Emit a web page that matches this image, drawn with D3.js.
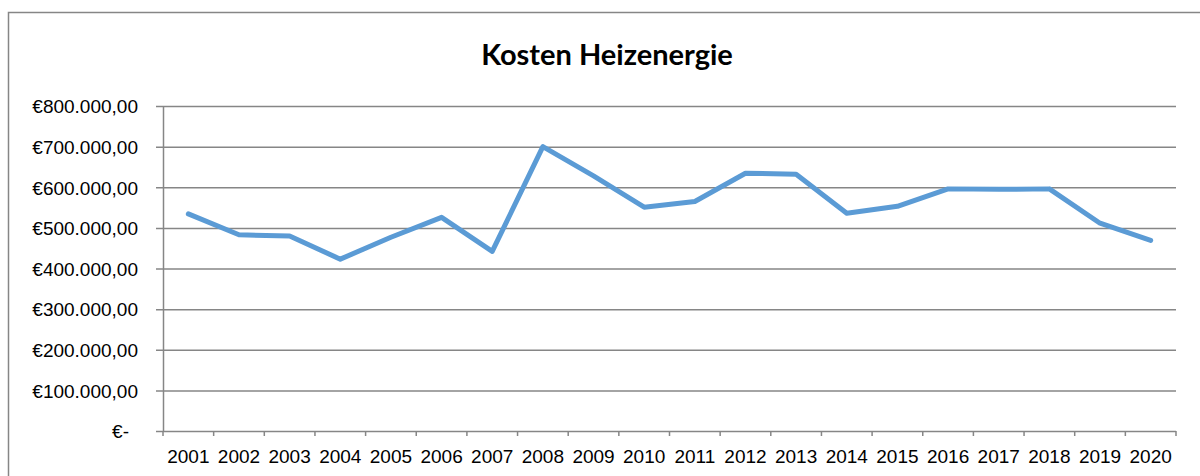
<!DOCTYPE html>
<html>
<head>
<meta charset="utf-8">
<script src="https://cdn.jsdelivr.net/npm/d3@7"></script>
<style>
  body { margin: 0; background: #fff; }
  svg { display: block; font-family: Lato, "Open Sans", sans-serif; }
</style>
</head>
<body>
<svg id="chart"></svg>
<script>
// data
const years = ["2001", "2002", "2003", "2004", "2005", "2006", "2007", "2008", "2009", "2010",
               "2011", "2012", "2013", "2014", "2015", "2016", "2017", "2018", "2019", "2020"];
const costs = [534500, 483000, 480000, 423000, 477000, 526000, 442000, 700000, 628000, 551000,
               565000, 634500, 632000, 536000, 553000, 596000, 595000, 596000, 511500, 469000];
const yTicks = [0, 100000, 200000, 300000, 400000, 500000, 600000, 700000, 800000];
const title = "Kosten Heizenergie";

const width = 1200, height = 476;
const margin = { top: 106, right: 24, bottom: 45, left: 163 };
const gray = "#868686";

const svg = d3.select("#chart").attr("width", width).attr("height", height);

// chart frame
svg.append("rect")
  .attr("x", 8.5).attr("y", 12.5)
  .attr("width", width).attr("height", height)
  .attr("fill", "none").attr("stroke", gray).attr("stroke-width", 1.5);

const x = d3.scaleBand()
  .domain(years)
  .range([margin.left, width - margin.right]);

const y = d3.scaleLinear()
  .domain([0, 800000])
  .range([height - margin.bottom, margin.top]);

// euro format like "€800.000,00"
const euro = d3.formatLocale({ decimal: ",", thousands: ".", grouping: [3], currency: ["€", ""] });
const fmt = euro.format("$,.2f");

// y axis with gridlines
const yAxis = svg.append("g")
  .attr("transform", `translate(${margin.left},0)`)
  .call(d3.axisLeft(y)
    .tickValues(yTicks)
    .tickSize(-(width - margin.right - margin.left))
    .tickSizeOuter(0)
    .tickPadding(25)
    .tickFormat(d => d === 0 ? "€-" : fmt(d)));

yAxis.select(".domain").attr("stroke", gray).attr("stroke-width", 1.5);
yAxis.selectAll(".tick line")
  .attr("x1", -7)
  .attr("stroke", gray).attr("stroke-width", 1.5);
yAxis.selectAll(".tick text")
  .attr("font-size", 19).attr("fill", "#000")
  .attr("dy", "0.36em");
yAxis.selectAll(".tick text").filter(d => d === 0).attr("dx", -9);

// x axis
const xAxis = svg.append("g")
  .attr("transform", `translate(0,${y(0)})`)
  .call(d3.axisBottom(x).tickSize(0).tickPadding(19));
xAxis.select(".domain").remove();
xAxis.selectAll(".tick text").attr("font-size", 19).attr("fill", "#000");

// category boundary tick marks
const bounds = years.map(d => x(d)).concat([x(years[years.length - 1]) + x.bandwidth()]);
xAxis.selectAll(".bound")
  .data(bounds)
  .enter().append("line")
  .attr("class", "bound")
  .attr("x1", d => d).attr("x2", d => d)
  .attr("y1", 0).attr("y2", 5)
  .attr("stroke", gray).attr("stroke-width", 1.5);

// the line
const line = d3.line()
  .x((d, i) => x(years[i]) + x.bandwidth() / 2)
  .y(d => y(d));

svg.append("path")
  .datum(costs)
  .attr("d", line)
  .attr("fill", "none")
  .attr("stroke", "#5b9bd5")
  .attr("stroke-width", 5)
  .attr("stroke-linejoin", "round")
  .attr("stroke-linecap", "round");

// title
svg.append("text")
  .attr("x", 607).attr("y", 65)
  .attr("text-anchor", "middle")
  .attr("font-size", 29)
  .attr("font-weight", "bold")
  .text(title);
</script>
</body>
</html>
